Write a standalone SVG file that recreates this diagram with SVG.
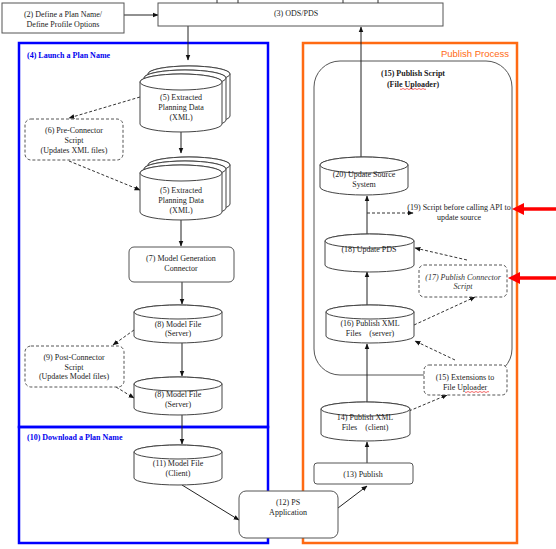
<svg xmlns="http://www.w3.org/2000/svg" width="556" height="549" viewBox="0 0 556 549">
<defs>
<style>
.t{font-family:"Liberation Serif","Times New Roman",serif;font-size:8px;fill:#222;text-anchor:middle}
.tb{font-family:"Liberation Serif","Times New Roman",serif;font-size:8px;font-weight:bold;fill:#0000EE}
.box{fill:#fff;stroke:#555;stroke-width:1}
.dbox{fill:#fff;stroke:#555;stroke-width:1;stroke-dasharray:3,2}
.cyl{fill:#fff;stroke:#444;stroke-width:1}
.ln{fill:none;stroke:#222;stroke-width:1;marker-end:url(#ah)}
.dl{fill:none;stroke:#333;stroke-width:1;stroke-dasharray:3,2;marker-end:url(#ah)}
.sq{fill:none;stroke:#e00;stroke-width:0.6}
</style>
<marker id="ah" viewBox="0 0 10 10" refX="9" refY="5" markerWidth="6" markerHeight="6" orient="auto" markerUnits="userSpaceOnUse">
<path d="M0,1 L10,5 L0,9 Z" fill="#111"/>
</marker>
</defs>
<rect width="556" height="549" fill="#fff"/>

<!-- containers -->
<g id="launch">
<rect x="19" y="43" width="249" height="384" fill="none" stroke="#0000FF" stroke-width="2.5"/>
<text class="tb" x="27" y="58">(4) Launch  a  Plan  Name</text>
</g>
<g id="download">
<rect x="19" y="427" width="249" height="116" fill="none" stroke="#0000FF" stroke-width="2.5"/>
<text class="tb" x="27" y="440">(10) Download  a  Plan  Name</text>
</g>
<g id="publishProcess">
<rect x="303" y="43" width="214" height="500" fill="none" stroke="#FF6A13" stroke-width="2.5"/>
<text x="509" y="57" text-anchor="end" style="font-family:'Liberation Sans',Arial,sans-serif;font-size:9.5px;fill:#FF6A13">Publish Process</text>
</g>
<g id="n15script">
<rect x="314" y="61" width="198" height="314" rx="26" fill="none" stroke="#555" stroke-width="1"/>
<text class="t" x="413" y="76" style="font-weight:bold">(15) Publish Script</text>
<text class="t" x="413" y="87" style="font-weight:bold">(File Uploader)</text>
<path class="sq" d="M400,89 q1,1 2,0 t2,0 t2,0 t2,0 t2,0 t2,0 t2,0 t2,0 t2,0 t2,0 t2,0 t2,0 t2,0"/>
</g>

<!-- connectors -->
<g id="connectors">
<path class="ln" d="M124,15 H158"/>
<path class="ln" d="M188,26 V60"/>
<path class="ln" d="M181,132 V153"/>
<path class="ln" d="M181,220 V246"/>
<path class="ln" d="M182,282 V304"/>
<path class="ln" d="M182,343 V376"/>
<path class="ln" d="M182,415 V444"/>
<path class="ln" d="M182,485 L239,520"/>
<path class="ln" d="M338,508 L367,486"/>
<path class="ln" d="M367,463 V442"/>
<path class="ln" d="M367,402 V344"/>
<path class="ln" d="M367,305 V272"/>
<path class="ln" d="M367,234 V196"/>
<path class="ln" d="M361,157 V27"/>
<path class="dl" d="M140,97 L69,118"/>
<path class="dl" d="M69,161 L140,190"/>
<path class="dl" d="M134,330 L113,345"/>
<path class="dl" d="M116,387 L134,398"/>
<path class="dl" d="M367,213 H413"/>
<path class="dl" d="M467,260 L415,248"/>
<path class="dl" d="M414,325 L475,297"/>
<path class="dl" d="M455,360 L415,341"/>
<path class="dl" d="M409,411 L447,395"/>
<!-- red arrows -->
<path d="M556,209 H522" stroke="#FF0000" stroke-width="3.5" fill="none"/>
<path d="M512,209 L524,203 L524,215 Z" fill="#FF0000"/>
<path d="M556,278 H518" stroke="#FF0000" stroke-width="3.5" fill="none"/>
<path d="M508,278 L520,272 L520,284 Z" fill="#FF0000"/>
</g>

<!-- nodes -->
<g id="n2">
<rect class="box" x="2" y="3" width="122" height="30"/>
<text class="t" x="63" y="17">(2) Define a Plan Name/</text>
<text class="t" x="63" y="27">Define Profile Options</text>
</g>
<g id="n3">
<rect class="box" x="158" y="3" width="285" height="23"/>
<path d="M217,0V3M238,0V3M343,0V3M378,0V3" stroke="#333" stroke-width="1"/>
<text class="t" x="296" y="16">(3) ODS/PDS</text>
</g>

<g id="n5a">
<path class="cyl" d="M148,74 V116 A41,8 0 0 0 230,116 V74 A41,8 0 0 0 148,74 Z"/>
<ellipse class="cyl" cx="189" cy="74" rx="41" ry="8"/>
<path class="cyl" d="M144,78 V120 A41,8 0 0 0 226,120 V78 A41,8 0 0 0 144,78 Z"/>
<ellipse class="cyl" cx="185" cy="78" rx="41" ry="8"/>
<path class="cyl" d="M140,82 V124 A41,8 0 0 0 222,124 V82 A41,8 0 0 0 140,82 Z"/>
<ellipse class="cyl" cx="181" cy="82" rx="41" ry="8"/>
<text class="t" x="181" y="100">(5) Extracted</text>
<text class="t" x="181" y="110">Planning Data</text>
<text class="t" x="181" y="120">(XML)</text>
</g>

<g id="n6">
<rect class="dbox" x="25" y="119" width="98" height="41" rx="6"/>
<text class="t" x="74" y="133">(6) Pre-Connector</text>
<text class="t" x="74" y="143">Script</text>
<text class="t" x="74" y="153">(Updates XML files)</text>
</g>

<g id="n5b">
<path class="cyl" d="M148,165 V204 A41,8 0 0 0 230,204 V165 A41,8 0 0 0 148,165 Z"/>
<ellipse class="cyl" cx="189" cy="165" rx="41" ry="8"/>
<path class="cyl" d="M144,169 V208 A41,8 0 0 0 226,208 V169 A41,8 0 0 0 144,169 Z"/>
<ellipse class="cyl" cx="185" cy="169" rx="41" ry="8"/>
<path class="cyl" d="M140,173 V212 A41,8 0 0 0 222,212 V173 A41,8 0 0 0 140,173 Z"/>
<ellipse class="cyl" cx="181" cy="173" rx="41" ry="8"/>
<text class="t" x="181" y="193">(5) Extracted</text>
<text class="t" x="181" y="203">Planning Data</text>
<text class="t" x="181" y="213">(XML)</text>
</g>

<g id="n7">
<rect class="box" x="129" y="247" width="105" height="35" rx="5"/>
<text class="t" x="181" y="261">(7) Model Generation</text>
<text class="t" x="181" y="271">Connector</text>
</g>

<g id="n8a">
<path class="cyl" d="M134,312 V336 A44,7 0 0 0 222,336 V312 A44,7 0 0 0 134,312 Z"/>
<ellipse class="cyl" cx="178" cy="312" rx="44" ry="7"/>
<text class="t" x="178" y="327">(8) Model File</text>
<text class="t" x="178" y="336">(Server)</text>
</g>

<g id="n9">
<rect class="dbox" x="25" y="346" width="99" height="41" rx="6"/>
<text class="t" x="74" y="360">(9) Post-Connector</text>
<text class="t" x="74" y="370">Script</text>
<text class="t" x="74" y="379">(Updates Model files)</text>
</g>

<g id="n8b">
<path class="cyl" d="M134,384 V408 A44,7 0 0 0 222,408 V384 A44,7 0 0 0 134,384 Z"/>
<ellipse class="cyl" cx="178" cy="384" rx="44" ry="7"/>
<text class="t" x="178" y="397">(8) Model File</text>
<text class="t" x="178" y="407">(Server)</text>
</g>

<g id="n11">
<path class="cyl" d="M134,452 V478 A44,7 0 0 0 222,478 V452 A44,7 0 0 0 134,452 Z"/>
<ellipse class="cyl" cx="178" cy="452" rx="44" ry="7"/>
<text class="t" x="178" y="466">(11) Model File</text>
<text class="t" x="178" y="476">(Client)</text>
</g>

<g id="n12">
<rect class="box" x="239" y="491" width="99" height="47" rx="7"/>
<text class="t" x="288" y="505">(12) PS</text>
<text class="t" x="288" y="515">Application</text>
</g>

<g id="n13">
<rect class="box" x="314" y="463" width="99" height="21" rx="3"/>
<text class="t" x="363" y="477">(13) Publish</text>
</g>

<g id="n14">
<path class="cyl" d="M321,409 V434 A44.5,7 0 0 0 410,434 V409 A44.5,7 0 0 0 321,409 Z"/>
<ellipse class="cyl" cx="365.5" cy="409" rx="44.5" ry="7"/>
<text class="t" x="365" y="420">14) Publish XML</text>
<text class="t" x="365" y="430" xml:space="preserve">Files    (client)</text>
</g>

<g id="n15ext">
<rect class="dbox" x="424" y="365" width="83" height="30" rx="5"/>
<text class="t" x="465" y="380">(15) Extensions to</text>
<text class="t" x="465" y="390">File Uploader</text>
<path class="sq" d="M465,392 q1,1 2,0 t2,0 t2,0 t2,0 t2,0 t2,0 t2,0 t2,0 t2,0 t2,0 t2,0 t2,0"/>
</g>

<g id="n16">
<path class="cyl" d="M326,312 V336 A44,7 0 0 0 414,336 V312 A44,7 0 0 0 326,312 Z"/>
<ellipse class="cyl" cx="370" cy="312" rx="44" ry="7"/>
<text class="t" x="370" y="326">(16) Publish XML</text>
<text class="t" x="370" y="336" xml:space="preserve">Files    (server)</text>
</g>

<g id="n17">
<rect class="dbox" x="419" y="265" width="88" height="32" rx="5"/>
<text class="t" x="463" y="280" style="font-style:italic;fill:#333">(17) Publish Connector</text>
<text class="t" x="463" y="289" style="font-style:italic;fill:#333">Script</text>
</g>

<g id="n18">
<path class="cyl" d="M325,241 V265 A44.5,7 0 0 0 414,265 V241 A44.5,7 0 0 0 325,241 Z"/>
<ellipse class="cyl" cx="369.5" cy="241" rx="44.5" ry="7"/>
<text class="t" x="369" y="252">(18) Update PDS</text>
</g>

<g id="n19">
<text class="t" x="459" y="210">(19) Script before calling API to</text>
<text class="t" x="459" y="220">update source</text>
</g>

<g id="n20">
<path class="cyl" d="M320,165 V187 A44,8 0 0 0 408,187 V165 A44,8 0 0 0 320,165 Z"/>
<ellipse class="cyl" cx="364" cy="165" rx="44" ry="8"/>
<text class="t" x="364" y="177">(20) Update Source</text>
<text class="t" x="364" y="187">System</text>
</g>
</svg>
